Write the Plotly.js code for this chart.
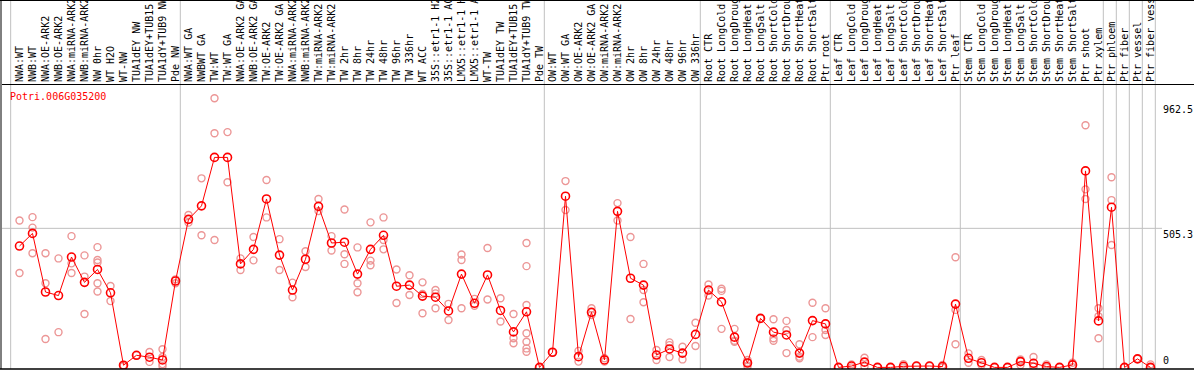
<!DOCTYPE html>
<html>
<head>
<meta charset="utf-8">
<script src="https://cdn.plot.ly/plotly-3.0.1.min.js"></script>
<style>
  html, body { margin: 0; padding: 0; background: #fff; }
  #chart { width: 1194px; height: 370px; }
</style>
</head>
<body>
<div id="chart"></div>
<script>
// ---- data ----
const geneName = 'Potri.006G035200';

const categories = [
  'NWA:WT', 'NWB:WT', 'NWA:OE-ARK2', 'NWB:OE-ARK2', 'NWA:miRNA-ARK2', 'NWB:miRNA-ARK2',
  'NW 0hr', 'WT H2O', 'WT-NW', 'TUA1dEY NW', 'TUA1dEY+TUB15 NW', 'TUA1dY+TUB9 NW', 'Pde NW',
  'NWA:WT GA', 'NWBWT GA', 'TW:WT', 'TW:WT GA', 'NWA:OE-ARK2 GA', 'NWB:OE-ARK2 GA',
  'TW:OE-ARK2', 'TW:OE-ARK2 GA', 'NWA:miRNA-ARK2', 'NWB:miRNA-ARK2', 'TW:miRNA-ARK2', 'TW:miRNA-ARK2',
  'TW 2hr', 'TW 8hr', 'TW 24hr', 'TW 48hr', 'TW 96hr', 'TW 336hr', 'WT ACC',
  '35S::etr1-1 H2O', '35S::etr1-1 ACC', 'LMX5::etr1-1 H2O', 'LMX5::etr1-1 ACC',
  'WT-TW', 'TUA1dEY TW', 'TUA1dEY+TUB15 TW', 'TUA1dY+TUB9 TW', 'Pde TW',
  'OW:WT', 'OW:WT GA', 'OW:OE-ARK2', 'OW:OE-ARK2 GA', 'OW:miRNA-ARK2', 'OW:miRNA-ARK2',
  'OW 2hr', 'OW 8hr', 'OW 24hr', 'OW 48hr', 'OW 96hr', 'OW 336hr',
  'Root CTR', 'Root LongCold', 'Root LongDrought', 'Root LongHeat', 'Root LongSalt',
  'Root ShortCold', 'Root ShortDrought', 'Root ShortHeat', 'Root ShortSalt', 'Ptr root',
  'Leaf CTR', 'Leaf LongCold', 'Leaf LongDrought', 'Leaf LongHeat', 'Leaf LongSalt',
  'Leaf ShortCold', 'Leaf ShortDrought', 'Leaf ShortHeat', 'Leaf ShortSalt', 'Ptr leaf',
  'Stem CTR', 'Stem LongCold', 'Stem LongDrought', 'Stem LongHeat', 'Stem LongSalt',
  'Stem ShortCold', 'Stem ShortDrought', 'Stem ShortHeat', 'Stem ShortSalt', 'Ptr shoot',
  'Ptr xylem', 'Ptr phloem', 'Ptr fiber', 'Ptr vessel', 'Ptr fiber vessel'
];

const meanValues = [
  441, 487, 274, 261, 401, 309, 356, 271, 8, 44, 37, 27, 314,
  538, 587, 763, 763, 376, 429, 612, 408, 281, 393, 585, 452,
  455, 339, 429, 480, 295, 299, 259, 255, 205, 339, 233, 336, 207, 129, 202, 0,
  55, 622, 39, 200, 27, 567, 324, 299, 45, 67, 52, 120,
  281, 238, 110, 16, 178, 128, 118, 52, 170, 158,
  0, 5, 19, 0, 0, 4, 5, 5, 3, 230,
  33, 17, 0, 0, 21, 15, 3, 0, 9, 714,
  169, 582, 0, 31, 0
];

const replicateValues = [
  [534, 343], [546, 508, 415], [415, 306, 103], [396, 128], [477, 378, 343], [407, 330, 194],
  [437, 390, 381, 306, 276], [296, 241], [8, 5], [44], [56, 20], [66, 38, 12, 4], [320, 306],
  [554, 526], [687, 480], [978, 851, 463], [855, 673], [396, 354], [474, 389],
  [681, 545], [466, 354], [308, 255], [422, 365], [612, 568], [477, 425],
  [574, 411, 376], [436, 306, 273], [527, 388, 371], [545, 463, 429], [356, 234], [335, 263],
  [309, 267, 197], [281, 269, 215], [231, 172], [410, 390, 215], [249, 224],
  [434, 247], [251, 167], [194, 106, 88], [452, 368, 227, 124, 93, 69, 57], [0],
  [55], [677, 572], [60, 21], [215, 190], [33, 21], [597, 534],
  [474, 176], [376, 281, 237], [63, 27], [91, 81, 38], [75, 29], [162, 78],
  [301, 261], [286, 278, 140], [140, 93, 97], [27, 3, 18], [178],
  [175, 106, 97], [169, 136, 52], [84, 39, 33], [235, 110], [215, 136, 118],
  [0], [11, 0], [35, 3], [0], [0], [12, 0], [5], [5], [9, 0], [400, 209, 84],
  [51, 17], [27, 9], [0], [0], [29, 9, 25], [38, 3, 4], [11, 0], [0], [17, 1], [880, 647, 612],
  [215, 186, 106], [691, 608, 445], [0], [31], [11, 0]
];

// last category index of each block (a separator follows it)
const groupEnds = [12, 40, 52, 62, 72, 83, 84, 85, 86, 87];

const yTickValues = [0, 505.3, 962.5];
const yTickLabels = ['0', '505.3', '962.5'];

// ---- geometry ----
const W = 1194, H = 370;
const M = { l: 2, r: 0, t: 85, b: 1 };
const plotW = W - M.l - M.r, plotH = H - M.t - M.b;
const pxPerCat = 13;
const firstCatPx = 19.5;
const xMin = -(firstCatPx - M.l) / pxPerCat;
const xMax = xMin + plotW / pxPerCat;
const zeroPx = 367.4, pxPerUnit = 0.2752;
const yMin = -((H - M.b) - zeroPx) / pxPerUnit;
const yMax = (zeroPx - M.t) / pxPerUnit;

const xIdx = categories.map((_, i) => i);
const repX = [], repY = [];
replicateValues.forEach((arr, i) => arr.forEach(v => { repX.push(i); repY.push(v); }));

const FONT = 'DejaVu Sans Mono, monospace';

const traces = [
  {
    type: 'scatter', mode: 'markers', x: repX, y: repY, hoverinfo: 'skip',
    marker: { symbol: 'circle-open', size: 7, color: 'rgb(236,150,150)', line: { width: 1.4 } },
    showlegend: false
  },
  {
    type: 'scatter', mode: 'lines+markers', x: xIdx, y: meanValues,
    line: { color: '#ff0000', width: 1 },
    marker: { symbol: 'circle-open', size: 8, color: '#ff0000', line: { width: 1.6 } },
    showlegend: false
  }
];

const topPaper = 1 + M.t / plotH;
const shapes = [];
const bounds = [-0.68].concat(groupEnds.map(e => e + 0.37));
bounds.forEach(b => shapes.push({
  type: 'line', xref: 'x', yref: 'paper', x0: b, x1: b, y0: 0, y1: topPaper,
  line: { color: '#c0c0c0', width: 1 }, layer: 'below'
}));
// horizontal reference line at middle tick
shapes.push({
  type: 'line', xref: 'paper', yref: 'y', x0: 0, x1: (1162 - M.l) / plotW,
  y0: yTickValues[1], y1: yTickValues[1], line: { color: '#c0c0c0', width: 1 }, layer: 'below'
});
// frame lines
shapes.push({ type: 'line', xref: 'paper', yref: 'paper', x0: -1 / plotW, x1: -1 / plotW, y0: 0, y1: topPaper, line: { color: '#000', width: 1 } });
shapes.push({ type: 'line', xref: 'paper', yref: 'paper', x0: -2 / plotW, x1: 1, y0: 0, y1: 0, line: { color: '#000', width: 1.5 } });
shapes.push({ type: 'line', xref: 'paper', yref: 'paper', x0: -2 / plotW, x1: 1, y0: topPaper - 0.5 / plotH, y1: topPaper - 0.5 / plotH, line: { color: '#000', width: 1 } });

const annotations = yTickValues.map((v, k) => ({
  xref: 'paper', yref: 'y', x: (1162 - M.l) / plotW, y: v,
  xanchor: 'left', yanchor: k === 0 ? 'bottom' : 'top',
  text: yTickLabels[k], showarrow: false, borderpad: 0,
  font: { family: FONT, size: 10, color: '#000' }
}));

const layout = {
  width: W, height: H,
  margin: { l: M.l, r: M.r, t: M.t, b: M.b, pad: 0 },
  paper_bgcolor: '#fff', plot_bgcolor: '#fff',
  showlegend: false,
  title: {
    text: geneName, xref: 'container', yref: 'container',
    x: 10 / W, xanchor: 'left', y: 1 - 96 / H, yanchor: 'middle',
    font: { family: FONT, size: 10, color: '#ff0000' }
  },
  xaxis: {
    range: [xMin, xMax], side: 'top', tickmode: 'array', tickvals: xIdx, ticktext: categories,
    tickangle: -90, tickfont: { family: FONT, size: 10, color: '#000' },
    ticks: '', showgrid: false, zeroline: false, showline: true, linecolor: '#000', linewidth: 1,
    automargin: false, fixedrange: true
  },
  yaxis: {
    range: [yMin, yMax], showticklabels: false, showgrid: false, zeroline: false, ticks: '',
    showline: false, automargin: false, fixedrange: true
  },
  shapes: shapes,
  annotations: annotations
};

Plotly.newPlot('chart', traces, layout, { staticPlot: true, displayModeBar: false });
</script>
</body>
</html>
